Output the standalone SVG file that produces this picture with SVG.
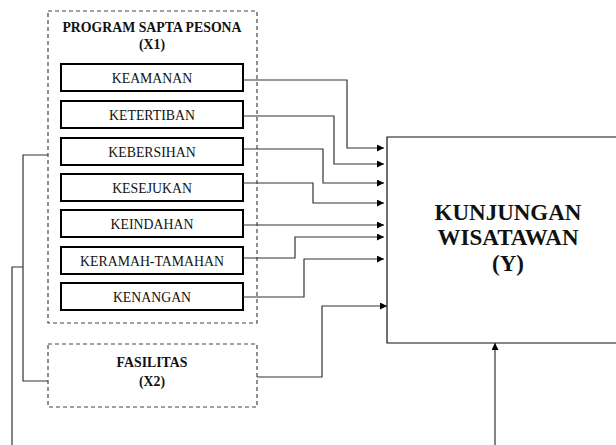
<svg xmlns="http://www.w3.org/2000/svg" width="616" height="445" viewBox="0 0 616 445">
<style>
.bg{fill:#fff}
.dash{fill:#fff;stroke:#444;stroke-width:1.2;stroke-dasharray:4,3}
.ind{fill:#fff;stroke:#000;stroke-width:2}
.yb{fill:#fff;stroke:#111;stroke-width:1.2}
.t{font-family:"Liberation Serif","Times New Roman",serif;font-size:13.8px;fill:#111;text-anchor:middle}
.tb{font-family:"Liberation Serif","Times New Roman",serif;font-size:13.8px;font-weight:bold;fill:#111;text-anchor:middle}
.ty{font-family:"Liberation Serif","Times New Roman",serif;font-size:23px;font-weight:bold;fill:#111;text-anchor:middle}
.c{fill:none;stroke:#333;stroke-width:1.2}
</style>
<defs>
<marker id="ah" viewBox="0 0 10 10" refX="10" refY="5" markerWidth="7" markerHeight="7" markerUnits="userSpaceOnUse" orient="auto">
<path d="M0,0 L10,5 L0,10 Z" fill="#000"/>
</marker>
</defs>
<rect class="bg" x="0" y="0" width="616" height="445"/>
<g id="x1-group">
<rect class="dash" x="48" y="11" width="209" height="312"/>
<text class="tb" x="152" y="32">PROGRAM SAPTA PESONA</text>
<text class="tb" x="152" y="49">(X1)</text>
</g>
<g id="keamanan"><rect class="ind" x="61" y="64" width="182" height="27"/><text class="t" x="152" y="82.5">KEAMANAN</text></g>
<g id="ketertiban"><rect class="ind" x="61" y="101" width="182" height="27"/><text class="t" x="152" y="119.5">KETERTIBAN</text></g>
<g id="kebersihan"><rect class="ind" x="61" y="138" width="182" height="27"/><text class="t" x="152" y="156.5">KEBERSIHAN</text></g>
<g id="kesejukan"><rect class="ind" x="61" y="174" width="182" height="27"/><text class="t" x="152" y="192.5">KESEJUKAN</text></g>
<g id="keindahan"><rect class="ind" x="61" y="210" width="182" height="27"/><text class="t" x="152" y="228.5">KEINDAHAN</text></g>
<g id="keramah"><rect class="ind" x="61" y="247" width="182" height="27"/><text class="t" x="152" y="265.5">KERAMAH-TAMAHAN</text></g>
<g id="kenangan"><rect class="ind" x="61" y="283" width="182" height="27"/><text class="t" x="152" y="301.5">KENANGAN</text></g>
<g id="fasilitas">
<rect class="dash" x="48" y="344" width="209" height="63"/>
<text class="tb" x="152" y="367">FASILITAS</text>
<text class="tb" x="152" y="386">(X2)</text>
</g>
<g id="kunjungan">
<path class="yb" d="M620,137 L387,137 L387,343 L620,343"/>
<text class="ty" x="508" y="220">KUNJUNGAN</text>
<text class="ty" x="508" y="245">WISATAWAN</text>
<text class="ty" x="508" y="271">(Y)</text>
</g>
<g id="connectors">
<path class="c" d="M243,80 H347 V148 H384" marker-end="url(#ah)"/>
<path class="c" d="M243,116 H334 V164 H384" marker-end="url(#ah)"/>
<path class="c" d="M243,149 H323 V183 H384" marker-end="url(#ah)"/>
<path class="c" d="M243,183 H313 V203 H384" marker-end="url(#ah)"/>
<path class="c" d="M243,225 H384" marker-end="url(#ah)"/>
<path class="c" d="M243,258 H295 V237 H384" marker-end="url(#ah)"/>
<path class="c" d="M243,297 H304 V259 H384" marker-end="url(#ah)"/>
<path class="c" d="M257,377 H322 V306 H387" marker-end="url(#ah)"/>
<path class="c" d="M48,155 H23 V381 H48"/>
<path class="c" d="M23,267 H12 V445"/>
<path class="c" d="M495,445 V343" marker-end="url(#ah)"/>
</g>
</svg>
